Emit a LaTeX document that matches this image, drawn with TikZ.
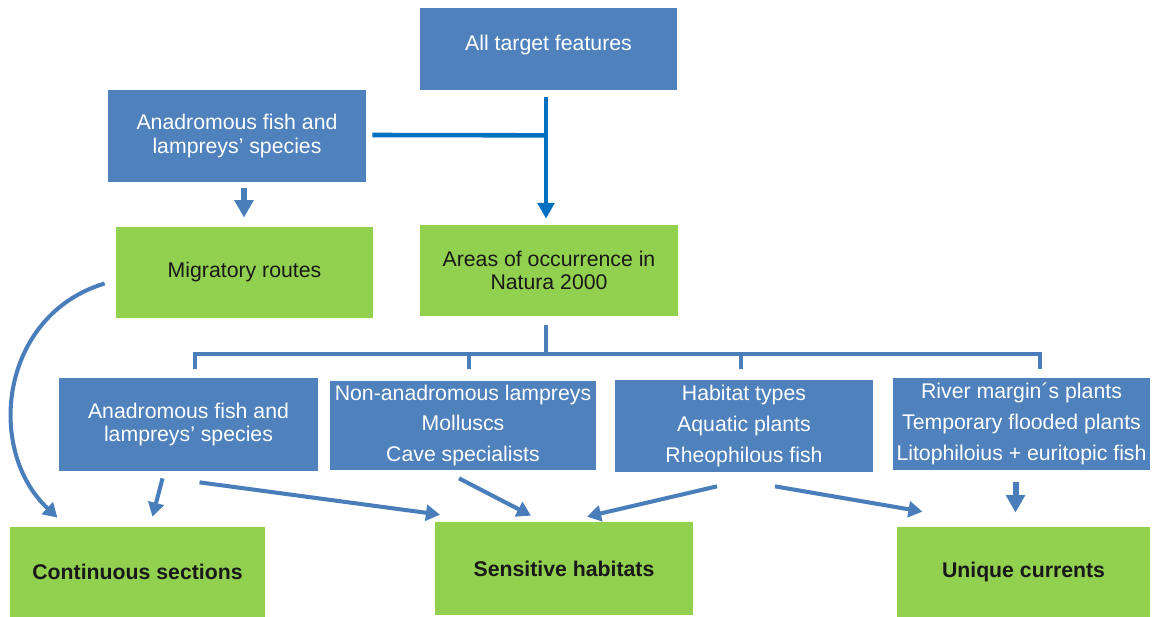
\documentclass[tikz,border=0pt]{standalone}
\usepackage{fontspec}
\setmainfont{Liberation Sans}
\usetikzlibrary{arrows.meta,calc}
\definecolor{boxblue}{HTML}{4F81BD}
\definecolor{boxgreen}{HTML}{92D050}
\definecolor{linkblue}{HTML}{0070C0}
\definecolor{arrowblue}{HTML}{4A7EBB}
\tikzset{
	sz/.style args={#1/#2}{minimum width=#1*0.02cm, minimum height=#2*0.02cm},
	bluebox/.style={fill=boxblue, text=white, inner sep=0pt, align=center, font=\fontsize{12.1}{13.2}\selectfont},
	greenbox/.style={fill=boxgreen, text=black!90, inner sep=0pt, align=center, font=\fontsize{12.1}{13.2}\selectfont},
	goalbox/.style={greenbox, font=\fontsize{12.1}{13.2}\selectfont\bfseries},
	tall/.style={font=\fontsize{12.1}{17.6}\selectfont},
	link/.style={draw=linkblue, line width=2.6pt},
	bar/.style={draw=arrowblue, line width=2.3pt},
	arr/.style={draw=arrowblue, line width=2.3pt, -{Triangle[length=8pt,width=9pt]}},
	fatarr/.style={draw=arrowblue, line width=3.4pt, -{Triangle[length=10pt,width=10.5pt]}},
}
\begin{document}
\begin{tikzpicture}[x=0.02cm,y=-0.02cm]
	\useasboundingbox (0,0) rectangle (1152,617);

	% first level
	\node[bluebox, sz=257/82] (feat) at (548.5,49) {\raisebox{0.24cm}{All target features}};
	\node[bluebox, sz=258/92] (anad) at (237,136) {Anadromous fish and\\lampreys’ species};
	\node[greenbox, sz=257/91] (mig) at (244.5,272.5) {Migratory routes};
	\node[greenbox, sz=258/91] (area) at (549,270.5) {Areas of occurrence in\\Natura 2000};

	% second level
	\node[bluebox, sz=259/93] (anad2) at (188.5,424.5) {Anadromous fish and\\lampreys’ species};
	\node[bluebox, tall, sz=266/89] (nonan) at (463,425.5) {Non-anadromous lampreys\\Molluscs\\Cave specialists};
	\node[bluebox, tall, sz=258/92] (habit) at (744,426) {Habitat types\\Aquatic plants\\Rheophilous fish};
	\node[bluebox, tall, sz=257/92] (river) at (1021.5,424) {River margin´s plants\\Temporary flooded plants\\Litophiloius + euritopic fish};

	% goals
	\node[goalbox, sz=255/90] (cont) at (137.5,572) {Continuous sections};
	\node[goalbox, sz=258/93] (sens) at (564,568.5) {Sensitive habitats};
	\node[goalbox, sz=253/90] (uniq) at (1023.5,572) {Unique currents};

	% top links
	\coordinate (tj) at ($(feat.south)+(-2.5,45)$);
	\draw[link] ($(anad.east)+(6,-1)$) -- (tj);
	\draw[link, -{Triangle[length=9pt,width=9.5pt]}] ($(feat.south)+(-2.5,7)$) -- ($(area.north)+(-3,-6)$);
	\draw[fatarr] ($(anad.south)+(7,6)$) -- ($(mig.north)+(-0.5,-9)$);

	% bracket
	\coordinate (hub) at ($(area.south)+(-3,38)$);
	\draw[bar] ($(area.south)+(-3,9)$) -- (hub);
	\draw[bar] ($(anad2.north)+(6.5,-9)$) |- ($(river.north)+(18.5,-24)$) -- ($(river.north)+(18.5,-9)$);
	\draw[bar] ($(nonan.north)+(6,-12)$) -- ++(0,-15);
	\draw[bar] ($(habit.north)+(-3,-11)$) -- ++(0,-15);

	% arrows
	\draw[arr] ($(mig.west)+(-11,11)$) .. controls (0,315) and (-15,450) .. ($(cont.north)+(-80,-9)$);
	\draw[arr] ($(anad2.south)+(-26,7)$) -- ($(cont.north)+(15,-10)$);
	\draw[arr] ($(anad2.south)+(11,11)$) -- ($(sens.north)+(-124,-7)$);
	\draw[arr] ($(nonan.south)+(-4,8)$) -- ($(sens.north)+(-33,-6)$);
	\draw[arr] ($(habit.south)+(-27,14)$) -- ($(sens.north)+(23,-5)$);
	\draw[arr] ($(habit.south)+(31,14)$) -- ($(uniq.north)+(-101,-15)$);
	\draw[fatarr] ($(river.south)+(-6,12)$) -- ($(uniq.north)+(-8,-14)$);
\end{tikzpicture}
\end{document}
